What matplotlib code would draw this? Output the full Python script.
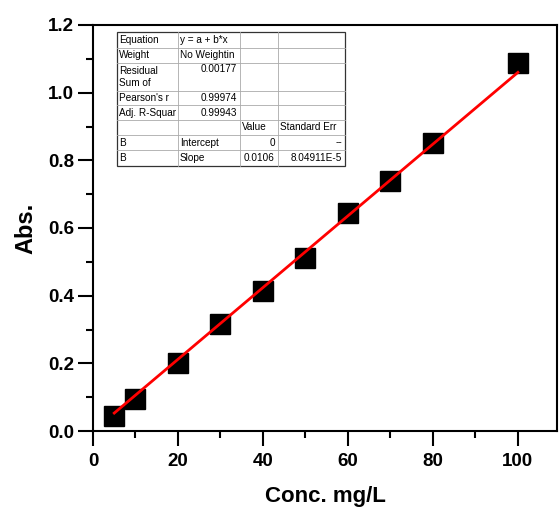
import numpy as np
import matplotlib.pyplot as plt

plt.rcParams['font.family'] = ['Liberation Sans', 'DejaVu Sans']

# data
conc = [5, 10, 20, 30, 40, 50, 60, 70, 80, 100]
absorb = [0.044, 0.095, 0.200, 0.316, 0.414, 0.511, 0.644, 0.739, 0.851, 1.088]
intercept = 0.0
slope = 0.0106

table_rows = [
    ['Equation', 'y = a + b*x', '', ''],
    ['Weight', 'No Weightin', '', ''],
    ['Residual\nSum of\nSquares', '0.00177', '', ''],
    ["Pearson's r", '0.99974', '', ''],
    ['Adj. R-Squar', '0.99943', '', ''],
    ['', '', 'Value', 'Standard Err'],
    ['B', 'Intercept', '0', '--'],
    ['B', 'Slope', '0.0106', '8.04911E-5'],
]

W, H = 560, 507
fig = plt.figure(figsize=(W / 100, H / 100), dpi=100)
ax = fig.add_axes([93 / W, 1 - 431 / H, (557 - 93) / W, (431 - 25) / H])

ax.plot(conc, absorb, 's', color='k', markersize=14, zorder=3)
xfit = np.array([conc[0], conc[-1]])
ax.plot(xfit, intercept + slope * xfit, color='red', lw=2, zorder=4)

ax.set_xlim(0, 109.2)
ax.set_ylim(0, 1.2)
ax.set_xticks([0, 20, 40, 60, 80, 100])
ax.set_xticks(np.arange(10, 110, 20), minor=True)
ax.set_yticks(np.arange(0, 1.21, 0.2))
ax.set_yticks(np.arange(0.1, 1.2, 0.2), minor=True)
ax.set_yticklabels(['%.1f' % v for v in np.arange(0, 1.21, 0.2)])
ax.tick_params(which='major', direction='out', length=10.5, width=1.5, labelsize=13.5, pad=3)
ax.tick_params(axis='x', which='major', pad=5)
ax.tick_params(which='minor', direction='out', length=5, width=1.5)
for lab in ax.get_xticklabels() + ax.get_yticklabels():
    lab.set_fontweight('bold')
for sp in ax.spines.values():
    sp.set_linewidth(1.5)
ax.set_xlabel('Conc. mg/L', fontsize=16, fontweight='bold', labelpad=12)
ax.set_ylabel('Abs.', fontsize=17, fontweight='bold', labelpad=8)

# fit results table
col_x = [117, 178, 240, 278, 345]
row_y = [32, 48, 63, 91, 105, 120, 135, 150, 166]
fs = 7.2
tab = fig.add_axes([0, 0, 1, 1], facecolor='none')
tab.set_xlim(0, W)
tab.set_ylim(H, 0)
tab.axis('off')
tab.add_patch(plt.Rectangle((col_x[0], row_y[0]), col_x[-1] - col_x[0], row_y[-1] - row_y[0],
                            facecolor='white', edgecolor='#333333', lw=0.9, zorder=1))
for y in row_y[1:-1]:
    tab.plot([col_x[0], col_x[-1]], [y, y], color='#aaaaaa', lw=0.6, zorder=2)
for x in col_x[1:-1]:
    tab.plot([x, x], [row_y[0], row_y[-1]], color='#aaaaaa', lw=0.6, zorder=2)

for r, row in enumerate(table_rows):
    y0, y1 = row_y[r], row_y[r + 1]
    for c, txt in enumerate(row):
        if not txt:
            continue
        if r == 2:
            # tall row, text at the top, first cell clipped
            if c == 0:
                t = tab.text(col_x[0] + 2, y0 + 2.5, txt, fontsize=fs, va='top', ha='left',
                             linespacing=1.25, zorder=3, clip_on=True)
                t.set_clip_path(plt.Rectangle((col_x[0], y0), col_x[1] - col_x[0], y1 - y0 - 1,
                                              transform=tab.transData))
            else:
                tab.text(col_x[c + 1] - 3, y0 + 1.5, txt, fontsize=fs, ha='right', va='top', zorder=3)
            continue
        ym = (y0 + y1) / 2
        right = (c == 1 and r in (3, 4)) or (c >= 2 and r != 5)
        if right:
            tab.text(col_x[c + 1] - 3, ym, txt, fontsize=fs, ha='right', va='center', zorder=3)
        else:
            tab.text(col_x[c] + 2, ym, txt, fontsize=fs, ha='left', va='center', zorder=3)

fig.savefig('out.png', dpi=100)
